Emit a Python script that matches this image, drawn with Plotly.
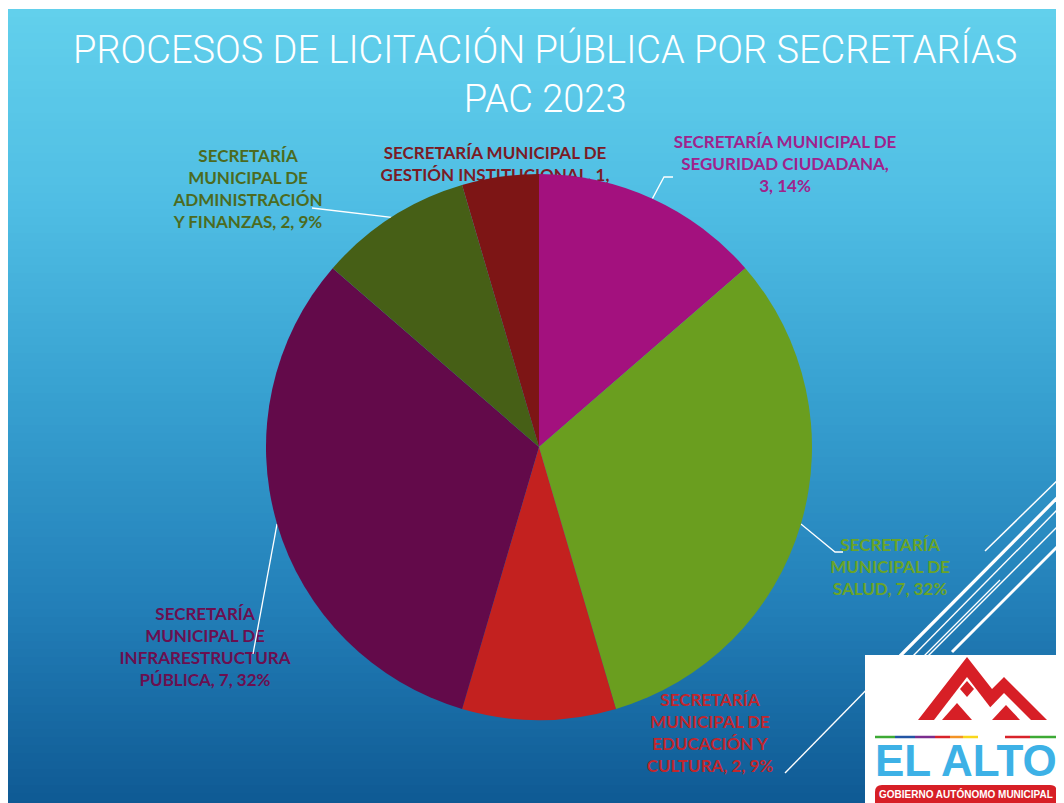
import math
import plotly.graph_objects as go

# ---------------- data ----------------
categories = [
    "SECRETARÍA MUNICIPAL DE SEGURIDAD CIUDADANA",
    "SECRETARÍA MUNICIPAL DE SALUD",
    "SECRETARÍA MUNICIPAL DE EDUCACIÓN Y CULTURA",
    "SECRETARÍA MUNICIPAL DE INFRARESTRUCTURA PÚBLICA",
    "SECRETARÍA MUNICIPAL DE ADMINISTRACIÓN Y FINANZAS",
    "SECRETARÍA MUNICIPAL DE GESTIÓN INSTITUCIONAL",
]
values = [3, 7, 2, 7, 2, 1]
title_text = "PROCESOS DE LICITACIÓN PÚBLICA POR SECRETARÍAS<br>PAC 2023"

# ---------------- styles ----------------
slice_colors = ["#A3117E", "#6A9E1F", "#C3211F", "#630A4A", "#465F16", "#7D1515"]
label_colors = ["#A0228C", "#6AA428", "#C1272D", "#6B0F50", "#4C6B1F", "#7B1B24"]
words_per_line = [[3, 2, 2], [1, 2, 3], [1, 2, 2, 3], [1, 2, 1, 3], [1, 2, 1, 4], [3, 3, 1]]
label_pos = [(785, 166), (890, 569), (710, 735), (205, 649), (248, 191), (495, 177)]
# elbow points of leader lines (None = no leader line)
leader_elbows = [[(664, 177), (673, 177)], [(835, 552), (843, 552)], None,
                 [(253, 654)], [(312, 208)], None]

W, H = 1064, 803
OFF = 8  # page body margin: figure origin sits at (8, 8) of the page
CX, CY, R = 539, 447, 273

total = sum(values)
pcts = [round(v / total * 100) for v in values]


def wrap(text, counts):
    words = text.split(" ")
    lines, i = [], 0
    for c in counts:
        lines.append(" ".join(words[i:i + c]))
        i += c
    return "<br>".join(lines)


labels = [wrap(f"{c}, {v}, {p}%", wpl) for c, v, p, wpl in zip(categories, values, pcts, words_per_line)]

fig = go.Figure()

# labels (cartesian layer: drawn beneath the pie, like the reference)
for i, lab in enumerate(labels):
    fig.add_trace(go.Scatter(
        x=[label_pos[i][0]], y=[label_pos[i][1]], mode="text", text=[lab],
        textposition="middle center",
        textfont=dict(family="Lato", size=17, color=label_colors[i], weight="bold"),
        hoverinfo="skip", showlegend=False))

# leader lines from slice mid-angle on the pie edge
cum = 0
for i, v in enumerate(values):
    mid = (cum + v / 2) / total * 2 * math.pi
    cum += v
    if leader_elbows[i] is None:
        continue
    ex, ey = CX + R * math.sin(mid), CY - R * math.cos(mid)
    pts = [(ex, ey)] + leader_elbows[i]
    fig.add_trace(go.Scatter(
        x=[p[0] for p in pts], y=[p[1] for p in pts], mode="lines",
        line=dict(color="white", width=1.3), hoverinfo="skip", showlegend=False))

fig.add_trace(go.Pie(
    labels=categories, values=values, sort=False, direction="clockwise", rotation=0,
    marker=dict(colors=slice_colors, line=dict(width=0)),
    textinfo="none", hoverinfo="label+value+percent", showlegend=False,
    domain=dict(x=[(CX - R - OFF) / W, (CX + R - OFF) / W],
                y=[1 - (CY + R - OFF) / H, 1 - (CY - R - OFF) / H]),
))

shapes = []
# gradient background
stops = [(9, (98, 208, 236)), (200, (80, 190, 228)), (400, (55, 160, 208)),
         (600, (35, 128, 185)), (811, (14, 88, 146))]


def grad(y):
    for (y0, c0), (y1, c1) in zip(stops[:-1], stops[1:]):
        if y0 <= y <= y1:
            t = (y - y0) / (y1 - y0)
            return "rgb(%d,%d,%d)" % tuple(round(a + (b - a) * t) for a, b in zip(c0, c1))
    return "rgb(%d,%d,%d)" % stops[-1][1]


step = 8
y = 9
while y < H + OFF:
    shapes.append(dict(type="rect", xref="x", yref="y", x0=OFF, x1=W + OFF, y0=y, y1=y + step + 1,
                       fillcolor=grad(y + step / 2), line=dict(width=0), layer="below"))
    y += step

# decorative diagonal lines
deco = [((985, 551), (1064, 474), 1.5), ((900, 656), (1064, 491), 3.2), ((912, 657), (1064, 503), 1.4),
        ((928, 656), (1064, 520), 1.4), ((952, 652), (1064, 540), 3.0), ((785, 773), (880, 676), 1.4),
        ((880, 700), (1000, 580), 1.2)]
for (x0, y0), (x1, y1), w in deco:
    shapes.append(dict(type="line", xref="x", yref="y", x0=x0, y0=y0, x1=x1, y1=y1,
                       line=dict(color="white", width=w), layer="below"))

# logo
shapes.append(dict(type="rect", xref="x", yref="y", x0=865, x1=W + OFF, y0=655, y1=H + OFF,
                   fillcolor="white", line=dict(width=0), layer="above"))
red = "#D71F26"
shapes.append(dict(type="path", xref="x", yref="y",
                   path="M 918,720 L 967,657 L 992,689 L 1004,677 L 1047,720 Z",
                   fillcolor=red, line=dict(width=0), layer="above"))
shapes.append(dict(type="path", xref="x", yref="y",
                   path="M 934,720 L 967,677 L 1000,720 Z", fillcolor="white", line=dict(width=0), layer="above"))
shapes.append(dict(type="path", xref="x", yref="y",
                   path="M 1004,693 L 1031,720 L 978,720 Z", fillcolor="white", line=dict(width=0), layer="above"))
shapes.append(dict(type="path", xref="x", yref="y",
                   path="M 942,720 L 957,703 L 972,720 Z", fillcolor=red, line=dict(width=0), layer="above"))
shapes.append(dict(type="path", xref="x", yref="y",
                   path="M 992,720 L 1006,705 L 1020,720 Z", fillcolor=red, line=dict(width=0), layer="above"))
shapes.append(dict(type="path", xref="x", yref="y",
                   path="M 967,681 L 974,689 L 967,697 L 960,689 Z", fillcolor=red, line=dict(width=0), layer="above"))
stripe = [(875, 895, "#3DAA35"), (895, 915, "#2255A4"), (915, 935, "#7B2D8E"), (935, 950, "#D8232A"),
          (950, 963, "#F39325"), (963, 978, "#F9D71C"), (1005, 1030, "#D8232A"), (1030, 1058, "#3DAA35")]
for x0, x1, c in stripe:
    shapes.append(dict(type="line", xref="x", yref="y", x0=x0, x1=x1, y0=737, y1=737,
                       line=dict(color=c, width=2.5), layer="above"))
shapes.append(dict(type="path", xref="x", yref="y",
                   path="M 882,785 L 1050,785 Q 1057,785 1057,792 L 1057,803 L 875,803 L 875,792 Q 875,785 882,785 Z",
                   fillcolor=red, line=dict(width=0), layer="above"))

annotations = [
    dict(text=title_text, xref="x", yref="y", x=545, y=74, showarrow=False,
         font=dict(family="Roboto", size=38, color="white", weight=300), align="center"),
    dict(text="<b>EL ALTO</b>", xref="x", yref="y", x=966, y=760, showarrow=False,
         font=dict(family="Liberation Sans", size=44, color="#3DB1E6")),
    dict(text="<b>GOBIERNO AUTÓNOMO MUNICIPAL</b>", xref="x", yref="y", x=966, y=794, showarrow=False,
         font=dict(family="Liberation Sans", size=10, color="white")),
]

fig.update_layout(
    width=W, height=H, margin=dict(l=0, r=0, t=0, b=0),
    paper_bgcolor="white", plot_bgcolor="rgba(0,0,0,0)",
    xaxis=dict(range=[OFF, W + OFF], visible=False, fixedrange=True, domain=[0, 1]),
    yaxis=dict(range=[H + OFF, OFF], visible=False, fixedrange=True, domain=[0, 1]),
    shapes=shapes, annotations=annotations, showlegend=False,
)

fig.write_html("out.html")
